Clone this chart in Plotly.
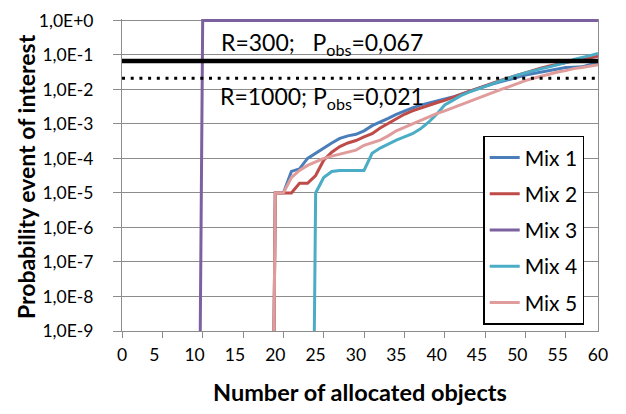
import plotly.graph_objects as go

# ---- data ----------------------------------------------------------------
objects = list(range(1, 61))                      # category positions (allocated objects)
tick_label_pos = [1, 5, 10, 15, 20, 25, 30, 35, 40, 45, 50, 55, 60]
tick_labels = ["0", "5", "10", "15", "20", "25", "30", "35", "40", "45", "50", "55", "60"]
tick_mark_pos = [1, 6, 11, 16, 21, 26, 31, 36, 41, 46, 51, 56]

y_tick_vals = [1e-9, 1e-8, 1e-7, 1e-6, 1e-5, 1e-4, 1e-3, 1e-2, 1e-1, 1e0]
y_tick_text = ["1,0E-9", "1,0E-8", "1,0E-7", "1,0E-6", "1,0E-5",
               "1,0E-4", "1,0E-3", "1,0E-2", "1,0E-1", "1,0E+0"]

mix1 = [0] * 19 + [1.0e-5, 1.0e-5, 4.2e-5, 5.0e-5, 1.0e-4, 1.41e-4, 2.1e-4, 2.8e-4,
                   3.8e-4, 4.5e-4, 5.0e-4, 6.3e-4, 8.9e-4, 1.12e-3, 1.45e-3, 1.9e-3,
                   2.4e-3, 2.9e-3, 3.5e-3, 4.0e-3, 4.5e-3, 5.1e-3, 6.0e-3, 7.2e-3,
                   8.7e-3, 1.05e-2, 1.23e-2, 1.45e-2, 1.7e-2, 1.95e-2, 2.24e-2, 2.6e-2,
                   2.9e-2, 3.2e-2, 3.6e-2, 4.0e-2, 4.3e-2, 4.4e-2, 4.5e-2, 5.2e-2, 6.3e-2]
mix2 = [0] * 19 + [1.0e-5, 1.0e-5, 1.0e-5, 1.9e-5, 1.9e-5, 3.2e-5, 8.9e-5, 1.51e-4,
                   2.2e-4, 2.8e-4, 3.3e-4, 4.2e-4, 5.2e-4, 7.6e-4, 1.05e-3, 1.41e-3,
                   1.9e-3, 2.4e-3, 2.9e-3, 3.5e-3, 4.1e-3, 4.8e-3, 5.75e-3, 7.1e-3,
                   8.7e-3, 1.05e-2, 1.29e-2, 1.55e-2, 1.86e-2, 2.2e-2, 2.6e-2, 3.0e-2,
                   3.5e-2, 4.2e-2, 4.8e-2, 5.4e-2, 6.0e-2, 6.8e-2, 7.6e-2, 8.3e-2, 9.1e-2]
mix3 = [0] * 10 + [1.0] * 50
mix4 = [0] * 24 + [1.0e-5, 2.8e-5, 4.2e-5, 4.5e-5, 4.5e-5, 4.5e-5, 4.5e-5, 1.41e-4,
                   2.0e-4, 2.6e-4, 3.4e-4, 4.2e-4, 5.2e-4, 7.2e-4, 1.12e-3, 1.9e-3,
                   3.55e-3, 4.8e-3, 6.6e-3, 8.3e-3, 1.0e-2, 1.23e-2, 1.5e-2, 1.8e-2,
                   2.2e-2, 2.6e-2, 3.0e-2, 3.5e-2, 4.0e-2, 4.5e-2, 5.1e-2, 6.0e-2,
                   7.4e-2, 8.3e-2, 9.5e-2, 1.1e-1]
mix5 = [0] * 19 + [1.0e-5, 1.0e-5, 2.8e-5, 4.5e-5, 6.3e-5, 7.9e-5, 1.0e-4, 1.17e-4,
                   1.35e-4, 1.51e-4, 1.74e-4, 2.4e-4, 2.8e-4, 3.4e-4, 4.5e-4, 6.3e-4,
                   7.9e-4, 1.0e-3, 1.26e-3, 1.58e-3, 2.0e-3, 2.4e-3, 2.95e-3, 3.6e-3,
                   4.6e-3, 5.6e-3, 6.9e-3, 8.3e-3, 1.0e-2, 1.2e-2, 1.5e-2, 1.8e-2,
                   2.1e-2, 2.45e-2, 2.8e-2, 3.2e-2, 3.5e-2, 4.0e-2, 4.3e-2, 4.7e-2, 5.2e-2]

series_names = ["Mix 1", "Mix 2", "Mix 3", "Mix 4", "Mix 5"]
series_values = [mix1, mix2, mix3, mix4, mix5]
series_colors = ["#4A7EBB", "#BE4B48", "#7D60A0", "#4BACC6", "#E09C9B"]

p_obs_r300 = 0.067
p_obs_r1000 = 0.021

# zero values cannot sit on a log axis; like the spreadsheet, they are drawn far below the floor
LOG_FLOOR = 1e-30

FONT = "Lato"
GRID = "#8C8C8C"

# the page places the figure 8 px from the window's top-left corner
OFF = 8
W, H = 626 - OFF, 414 - OFF
PLOT_L, PLOT_R = 121.7 - OFF, 597.8 - OFF
PLOT_TOP, PLOT_BOT = 9.6 - OFF, 330.7 - OFF
PW, PH = PLOT_R - PLOT_L, PLOT_BOT - PLOT_TOP


def px(pix):
    return (pix - OFF - PLOT_L) / PW


def py(pix):
    return (PLOT_BOT - (pix - OFF)) / PH


fig = go.Figure()
for name, vals, col in zip(series_names, series_values, series_colors):
    fig.add_trace(go.Scatter(
        x=objects, y=[v if v > 0 else LOG_FLOOR for v in vals],
        mode="lines", name=name, legendgroup=name,
        line=dict(color=col, width=3), hoverinfo="skip"))

fig.add_trace(go.Scatter(x=[objects[0], objects[-1]], y=[p_obs_r300, p_obs_r300],
                         mode="lines", line=dict(color="black", width=4.5),
                         showlegend=False, hoverinfo="skip"))
fig.add_trace(go.Scatter(x=[objects[0], objects[-1]], y=[p_obs_r1000, p_obs_r1000],
                         mode="lines", line=dict(color="black", width=3, dash="3px,5.7px"),
                         showlegend=False, hoverinfo="skip"))

annotations = [
    dict(text="R=300;\u00a0\u00a0 P<sub>obs</sub>=0,067", x=px(219), y=py(35),
         xref="paper", yref="paper", xanchor="left", yanchor="middle", showarrow=False,
         font=dict(family=FONT, size=23, color="black")),
    dict(text="R=1000; P<sub>obs</sub>=0,021", x=px(218), y=py(90),
         xref="paper", yref="paper", xanchor="left", yanchor="middle", showarrow=False,
         font=dict(family=FONT, size=23, color="black")),
    dict(text="<b>Number of allocated objects</b>", x=0.5, y=py(393),
         xref="paper", yref="paper", xanchor="center", yanchor="middle", showarrow=False,
         font=dict(family=FONT, size=23.5, color="black")),
    dict(text="<b>Probability event of interest</b>", x=px(25), y=py(172),
         xref="paper", yref="paper", xanchor="center", yanchor="middle", showarrow=False,
         textangle=-90, font=dict(family=FONT, size=23, color="black")),
]

fig.update_layout(
    width=W, height=H, autosize=False,
    margin=dict(l=PLOT_L, r=W - PLOT_R, t=PLOT_TOP, b=H - PLOT_BOT, pad=0),
    paper_bgcolor="white", plot_bgcolor="white",
    font=dict(family=FONT, size=17.5, color="black"),
    annotations=annotations,
    legend=dict(x=px(533.5), y=py(227), xanchor="center", yanchor="middle",
                bordercolor="black", borderwidth=1.5, bgcolor="white",
                font=dict(family=FONT, size=21, color="black"),
                tracegroupgap=6, itemwidth=30),
    xaxis=dict(range=[objects[0], objects[-1]], tickmode="array",
               tickvals=tick_label_pos, ticktext=tick_labels, ticks="",
               showgrid=False, zeroline=False, showline=True, linecolor=GRID, linewidth=1,
               tickfont=dict(family=FONT, size=17.5, color="black"), ticklabelstandoff=8,
               ticklabeloverflow="allow",
               minor=dict(tickmode="array", tickvals=tick_mark_pos, ticks="outside",
                          ticklen=6, tickcolor=GRID, tickwidth=1, showgrid=False)),
    yaxis=dict(type="log", range=[-9, 0.04], tickmode="array",
               tickvals=y_tick_vals, ticktext=y_tick_text, ticks="outside", ticklen=8,
               tickcolor=GRID, tickwidth=1, showgrid=True, gridcolor=GRID, gridwidth=1,
               showline=True, mirror=True, linecolor=GRID, linewidth=1, zeroline=False,
               tickfont=dict(family=FONT, size=17.5, color="black"), ticklabelstandoff=16,
               ticklabeloverflow="allow"),
)

fig.write_html("out.html")
